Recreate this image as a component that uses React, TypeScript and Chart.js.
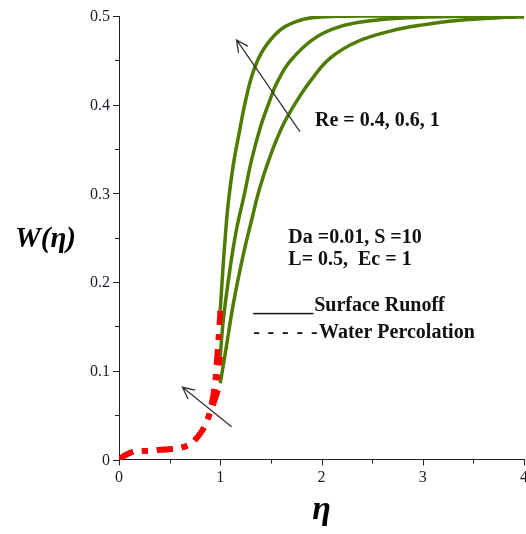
import React, { useEffect, useRef } from "react";
import { Chart, registerables } from "chart.js";
Chart.register(...registerables);

// ---------- data ----------
// Surface runoff (solid green), three Reynolds numbers
const etaRe1 = [1.0, 1.03, 1.055, 1.08, 1.13, 1.19, 1.245, 1.325, 1.425, 1.59, 1.755, 1.9, 2.15, 2.5, 3.0, 4.0];
const wRe1 = [0.168, 0.221, 0.259, 0.29, 0.333, 0.37, 0.402, 0.437, 0.462, 0.484, 0.494, 0.498, 0.4997, 0.5, 0.5, 0.5];

const etaRe06 = [1.0, 1.03, 1.095, 1.16, 1.24, 1.31, 1.4, 1.49, 1.557, 1.69, 1.92, 2.18, 2.51, 2.84, 3.3, 4.0];
const wRe06 = [0.116, 0.157, 0.214, 0.259, 0.3, 0.338, 0.376, 0.405, 0.424, 0.449, 0.474, 0.488, 0.495, 0.498, 0.4995, 0.5];

const etaRe04 = [1.0, 1.06, 1.13, 1.23, 1.31, 1.39, 1.49, 1.62, 1.755, 1.886, 2.08, 2.35, 2.68, 3.0, 3.34, 3.83, 4.0];
const wRe04 = [0.086, 0.127, 0.176, 0.232, 0.27, 0.306, 0.341, 0.377, 0.404, 0.426, 0.452, 0.471, 0.483, 0.49, 0.495, 0.4985, 0.499];

// Water percolation (dashed red)
const etaPerc = [0, 0.05, 0.1, 0.15, 0.2, 0.3, 0.4, 0.5, 0.6, 0.7, 0.75, 0.8, 0.85, 0.9, 0.95, 1.0];
const wPercRe04 = [0, 0.004, 0.007, 0.009, 0.0095, 0.01, 0.011, 0.0115, 0.013, 0.017, 0.022, 0.029, 0.038, 0.052, 0.068, 0.086];
const wPercRe06 = [0, 0.004, 0.007, 0.009, 0.0095, 0.01, 0.011, 0.0115, 0.013, 0.017, 0.022, 0.029, 0.038, 0.054, 0.078, 0.116];
const wPercRe1 = [0, 0.004, 0.007, 0.009, 0.0095, 0.01, 0.011, 0.0115, 0.013, 0.017, 0.022, 0.029, 0.039, 0.056, 0.09, 0.168];

// axis ticks
const xMajor = [0, 1, 2, 3, 4];
const xMajorLabels = ["0", "1", "2", "3", "4"];
const xMinor = [0.5, 1.5, 2.5, 3.5];
const yMajor = [0, 0.1, 0.2, 0.3, 0.4, 0.5];
const yMajorLabels = ["0", "0.1", "0.2", "0.3", "0.4", "0.5"];
const yMinor = [0.05, 0.15, 0.25, 0.35, 0.45];

// annotations (data coordinates)
const annotationTexts = [
  { prefix: "", text: "Re = 0.4, 0.6, 1", x: 1.936, y: 0.376 },
  { prefix: "", text: "Da =0.01, S =10", x: 1.672, y: 0.244 },
  { prefix: "", text: "L= 0.5,  Ec = 1", x: 1.672, y: 0.219 },
  { prefix: "______", text: "Surface Runoff", x: 1.325, y: 0.1674 },
  { prefix: "- - - - -", text: "Water Percolation", x: 1.325, y: 0.137 },
];
const arrows = [
  { x0: 1.787, y0: 0.3696, x1: 1.161, y1: 0.473 },
  { x0: 1.112, y0: 0.037, x1: 0.627, y1: 0.0814 },
];

const GREEN = "#4e7c00";
const RED = "#ff0000";
const SERIF = '"Liberation Serif", "Times New Roman", serif';

function pts(xs: number[], ys: number[]) {
  return xs.map((x, i) => ({ x, y: ys[i] }));
}

const decorPlugin = {
  id: "decor",
  afterDraw(chart: any) {
    const ctx = chart.ctx as CanvasRenderingContext2D;
    const xs = chart.scales.x;
    const ys = chart.scales.y;
    const x0 = xs.getPixelForValue(0);
    const y0 = ys.getPixelForValue(0);
    ctx.save();
    ctx.strokeStyle = "#222";
    ctx.lineWidth = 1;
    ctx.beginPath();
    yMajor.forEach((v) => {
      const p = Math.round(ys.getPixelForValue(v)) + 0.5;
      ctx.moveTo(x0 - 6, p);
      ctx.lineTo(x0, p);
    });
    yMinor.forEach((v) => {
      const p = Math.round(ys.getPixelForValue(v)) + 0.5;
      ctx.moveTo(x0 - 4, p);
      ctx.lineTo(x0, p);
    });
    xMajor.forEach((v) => {
      const p = Math.round(xs.getPixelForValue(v)) + 0.5;
      ctx.moveTo(p, y0);
      ctx.lineTo(p, y0 + 6);
    });
    xMinor.forEach((v) => {
      const p = Math.round(xs.getPixelForValue(v)) + 0.5;
      ctx.moveTo(p, y0);
      ctx.lineTo(p, y0 + 4);
    });
    ctx.stroke();

    // tick labels
    ctx.fillStyle = "#1c1c2a";
    ctx.font = `16px ${SERIF}`;
    ctx.textAlign = "right";
    ctx.textBaseline = "middle";
    yMajor.forEach((v, i) => {
      ctx.fillText(yMajorLabels[i], x0 - 9, ys.getPixelForValue(v) + 1);
    });
    ctx.textAlign = "center";
    ctx.textBaseline = "top";
    xMajor.forEach((v, i) => {
      ctx.fillText(xMajorLabels[i], xs.getPixelForValue(v), y0 + 10);
    });

    // axis titles
    ctx.fillStyle = "#000";
    ctx.font = `italic bold 29px ${SERIF}`;
    ctx.textAlign = "left";
    ctx.textBaseline = "alphabetic";
    ctx.fillText("W(η)", 15, 247);
    ctx.font = `italic bold 34px ${SERIF}`;
    ctx.textAlign = "center";
    ctx.fillText("η", xs.getPixelForValue(2), 519);

    // arrows
    ctx.strokeStyle = "#333";
    ctx.lineWidth = 1.3;
    arrows.forEach((a) => {
      const px0 = xs.getPixelForValue(a.x0);
      const py0 = ys.getPixelForValue(a.y0);
      const px1 = xs.getPixelForValue(a.x1);
      const py1 = ys.getPixelForValue(a.y1);
      const ang = Math.atan2(py1 - py0, px1 - px0);
      const hl = 13;
      const spread = 0.45;
      ctx.beginPath();
      ctx.moveTo(px0, py0);
      ctx.lineTo(px1, py1);
      ctx.moveTo(px1 - hl * Math.cos(ang - spread), py1 - hl * Math.sin(ang - spread));
      ctx.lineTo(px1, py1);
      ctx.lineTo(px1 - hl * Math.cos(ang + spread), py1 - hl * Math.sin(ang + spread));
      ctx.stroke();
    });

    // annotation texts
    ctx.fillStyle = "#111";
    ctx.font = `bold 20px ${SERIF}`;
    ctx.textAlign = "left";
    ctx.textBaseline = "alphabetic";
    annotationTexts.forEach((t) => {
      let px = xs.getPixelForValue(t.x);
      const py = ys.getPixelForValue(t.y);
      if (t.prefix) {
        const dashed = t.prefix.startsWith("-");
        (ctx as any).letterSpacing = dashed ? "1.4px" : "0px";
        ctx.fillText(t.prefix, px, py);
        px += ctx.measureText(t.prefix).width + (dashed ? 0 : 1);
        (ctx as any).letterSpacing = "0px";
      }
      ctx.fillText(t.text, px, py);
    });
    ctx.restore();
  },
};

export default function App() {
  const ref = useRef<HTMLCanvasElement | null>(null);
  useEffect(() => {
    if (!ref.current) return;
    const green = (d: any[]) => ({
      data: d,
      borderColor: GREEN,
      borderWidth: 3.5,
      pointRadius: 0,
      fill: false,
      tension: 0.4,
    });
    const red = (d: any[]) => ({
      data: d,
      borderColor: RED,
      borderWidth: 5.5,
      borderDash: [16, 9, 6, 9],
      pointRadius: 0,
      fill: false,
      cubicInterpolationMode: "monotone" as const,
    });
    const chart = new Chart(ref.current, {
      type: "line",
      data: {
        datasets: [
          red(pts(etaPerc, wPercRe04)),
          red(pts(etaPerc, wPercRe06)),
          red(pts(etaPerc, wPercRe1)),
          green(pts(etaRe1, wRe1)),
          green(pts(etaRe06, wRe06)),
          green(pts(etaRe04, wRe04)),
        ],
      },
      options: {
        responsive: false,
        animation: false,
        parsing: false as any,
        layout: { padding: { top: 16, right: 2, left: 0, bottom: 0 } },
        plugins: { legend: { display: false }, tooltip: { enabled: false } },
        scales: {
          x: {
            type: "linear",
            min: 0,
            max: 4,
            grid: { display: false },
            border: { display: true, color: "#222", width: 1 },
            ticks: { display: false },
            afterFit: (s: any) => {
              s.height = 74.5;
            },
          },
          y: {
            type: "linear",
            min: 0,
            max: 0.5,
            grid: { display: false },
            border: { display: true, color: "#222", width: 1 },
            ticks: { display: false },
            afterFit: (s: any) => {
              s.width = 119;
            },
          },
        },
      },
      plugins: [decorPlugin],
    });
    return () => chart.destroy();
  }, []);
  return (
    <div style={{ position: "absolute", left: 0, top: 0, width: 526, height: 534, background: "#fff" }}>
      <canvas ref={ref} width={526} height={534} style={{ display: "block" }} />
    </div>
  );
}
